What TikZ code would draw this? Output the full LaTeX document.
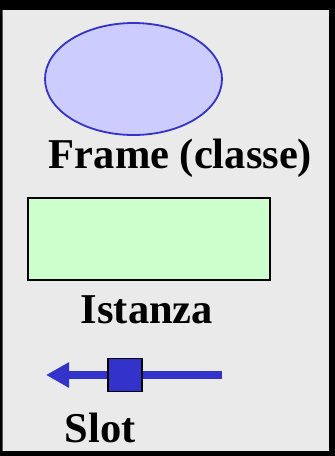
\documentclass[tikz,border=0pt]{standalone}
\usepackage{fontspec}
\setmainfont{Liberation Serif}
\usetikzlibrary{arrows.meta,shapes.geometric}
\definecolor{legendgray}{HTML}{EAEAEA}
\definecolor{framefill}{HTML}{CCCCFF}
\definecolor{frameline}{HTML}{3333CC}
\definecolor{instfill}{HTML}{CCFFCC}
\tikzset{
  legendtext/.style={font=\fontsize{42.5}{50}\selectfont\bfseries, inner sep=0pt, anchor=base},
  framenode/.style={ellipse, draw=frameline, fill=framefill, line width=1.8pt,
    minimum width=177pt, minimum height=112pt, inner sep=0pt},
  instnode/.style={rectangle, draw=black, fill=instfill, line width=1.8pt,
    minimum width=242pt, minimum height=82pt, inner sep=0pt},
  slotbox/.style={rectangle, draw=black, fill=frameline, line width=1.2pt,
    minimum width=34pt, minimum height=33pt, inner sep=0pt},
}
\begin{document}
\begin{tikzpicture}[x=1pt,y=-1pt]
        \useasboundingbox (0,0) rectangle (335,456);
        % legend box with shadow
        \fill[black] (0,0) rectangle (335,456);
        \fill[legendgray] (2,10) rectangle (329,451);
        \draw[gray!70!black, line width=1pt] (2.5,10) -- (2.5,451);

        % frame (classe)
        \node[framenode] (frame) at (133.5,79) {};
        \node[legendtext] (framelbl) at (180.5,168) {Frame (classe)};

        % istanza
        \node[instnode] (inst) at (149,239) {};
        \node[legendtext] (instlbl) at (147,323) {Istanza};

        % slot
        \coordinate (slotstart) at (222,375);
        \coordinate (slottip) at (46,375);
        \draw[frameline, line width=8pt, -{Triangle[length=23pt,width=24pt]}] (slotstart) -- (slottip);
        \node[slotbox] (slot) at (125,375) {};
        \node[legendtext] (slotlbl) at (100,442) {Slot};
    \end{tikzpicture}
\end{document}
